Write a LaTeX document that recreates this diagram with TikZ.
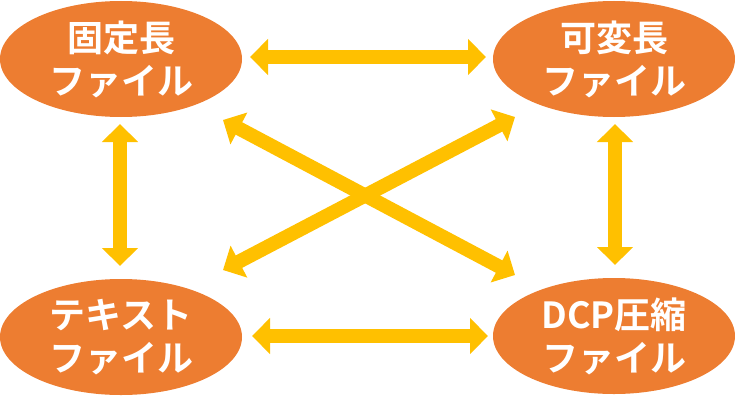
\documentclass[tikz,border=0pt]{standalone}
\usepackage{fontspec}
\newfontfamily\jpbold{Noto Sans CJK JP Bold}
\usetikzlibrary{shapes.geometric,arrows.meta}
\definecolor{fileorange}{HTML}{ED7D31}
\definecolor{arrowyellow}{HTML}{FFC000}
\tikzset{
  filenode/.style={ellipse, fill=fileorange, draw=none, inner sep=0pt,
    minimum width=242pt, minimum height=116pt, text=white, align=center,
    font=\jpbold\fontsize{36}{43}\selectfont},
  dblarrow/.style={draw=arrowyellow, line width=14pt,
    {Triangle[width=35pt,length=18pt,fill=arrowyellow]}-{Triangle[width=35pt,length=18pt,fill=arrowyellow]}}
}
\begin{document}
\begin{tikzpicture}[x=1pt,y=-1pt]
\useasboundingbox (0,0) rectangle (735,404);
\node[filenode] (tl) at (121,59) {固定長\\ファイル};
\node[filenode] (tr) at (614,59) {可変長\\ファイル};
\node[filenode] (bl) at (121,337) {テキスト\\ファイル};
\node[filenode] (br) at (614,336) {DCP圧縮\\ファイル};
% arrow end points
\coordinate (h1a) at (250,57);  \coordinate (h1b) at (486,57);
\coordinate (h2a) at (252,336); \coordinate (h2b) at (488,336);
\coordinate (v1a) at (120,124); \coordinate (v1b) at (120,266);
\coordinate (v2a) at (615,124); \coordinate (v2b) at (615,265);
\coordinate (d1a) at (223,120); \coordinate (d1b) at (515,275);
\coordinate (d2a) at (515,117); \coordinate (d2b) at (223,270);
\draw[dblarrow] (h1a) -- (h1b);
\draw[dblarrow] (h2a) -- (h2b);
\draw[dblarrow] (v1a) -- (v1b);
\draw[dblarrow] (v2a) -- (v2b);
\draw[dblarrow] (d1a) -- (d1b);
\draw[dblarrow] (d2a) -- (d2b);
\end{tikzpicture}
\end{document}
